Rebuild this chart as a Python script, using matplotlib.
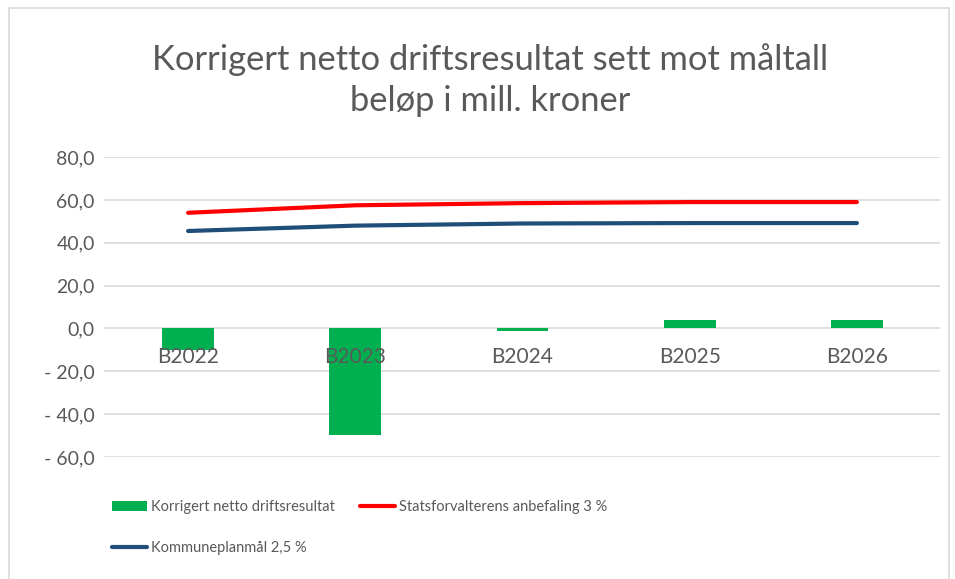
import matplotlib.pyplot as plt
from matplotlib.patches import Rectangle
from matplotlib.ticker import FuncFormatter

categories = ['B2022', 'B2023', 'B2024', 'B2025', 'B2026']
driftsresultat = [-10.0, -49.5, -1.2, 4.0, 4.0]
statsforvalter = [54.0, 57.5, 58.5, 59.0, 59.0]
kommuneplan = [45.5, 48.0, 49.0, 49.2, 49.2]
yticks = [-60, -40, -20, 0, 20, 40, 60, 80]

plt.rcParams['font.family'] = ['Lato', 'DejaVu Sans']
grey = '#595959'

fig = plt.figure(figsize=(9.55, 5.79), dpi=100)
ax = fig.add_axes([0.1094, 0.2107, 0.8754, 0.518])
ax.set_axisbelow(False)

x = list(range(len(categories)))
bars = ax.bar(x, driftsresultat, width=0.31, color='#00B050', zorder=2)
red, = ax.plot(x, statsforvalter, color='#FF0000', lw=3, solid_capstyle='round', zorder=3)
blue, = ax.plot(x, kommuneplan, color='#1F4E79', lw=3, solid_capstyle='round', zorder=3)

# grid drawn by hand so the category labels can sit on top of the bars
for t in yticks:
    ax.axhline(t, color='#D9D9D9', lw=1.2, zorder=0)

ax.set_xlim(-0.5, len(categories) - 0.5)
ax.set_ylim(-60, 80)
ax.set_yticks(yticks)


def fmt(v, pos):
    if v < 0:
        return '- ' + f'{abs(v):.1f}'.replace('.', ',')
    return f'{v:.1f}'.replace('.', ',')


ax.yaxis.set_major_formatter(FuncFormatter(fmt))
for s in ['top', 'right', 'left', 'bottom']:
    ax.spines[s].set_visible(False)
ax.spines['bottom'].set_position(('data', 0))
ax.set_xticks(x)
ax.set_xticklabels(categories)
ax.tick_params(axis='both', length=0, labelcolor=grey)
ax.tick_params(axis='y', labelsize=14, pad=7)
ax.tick_params(axis='x', labelsize=15, pad=13)

fig.text(0.513, 0.897, 'Korrigert netto driftsresultat sett mot måltall',
         ha='center', va='center', fontsize=24.8, color=grey)
fig.text(0.513, 0.826, 'beløp i mill. kroner',
         ha='center', va='center', fontsize=24.8, color=grey)

fig.legend([bars, blue, red],
           ['Korrigert netto driftsresultat', 'Kommuneplanmål 2,5 %',
            'Statsforvalterens anbefaling 3 %'],
           ncol=2, loc='upper left', bbox_to_anchor=(0.111, 0.147),
           frameon=False, fontsize=10.5, labelcolor=grey, handlelength=2.4,
           handletextpad=0.3, columnspacing=1.7, labelspacing=1.85,
           borderaxespad=0)

fig.patches.append(Rectangle((0.009, -0.02), 0.985, 1.006, transform=fig.transFigure,
                             fill=False, edgecolor='#D9D9D9', lw=1.2))

fig.savefig('out.png', dpi=100)
